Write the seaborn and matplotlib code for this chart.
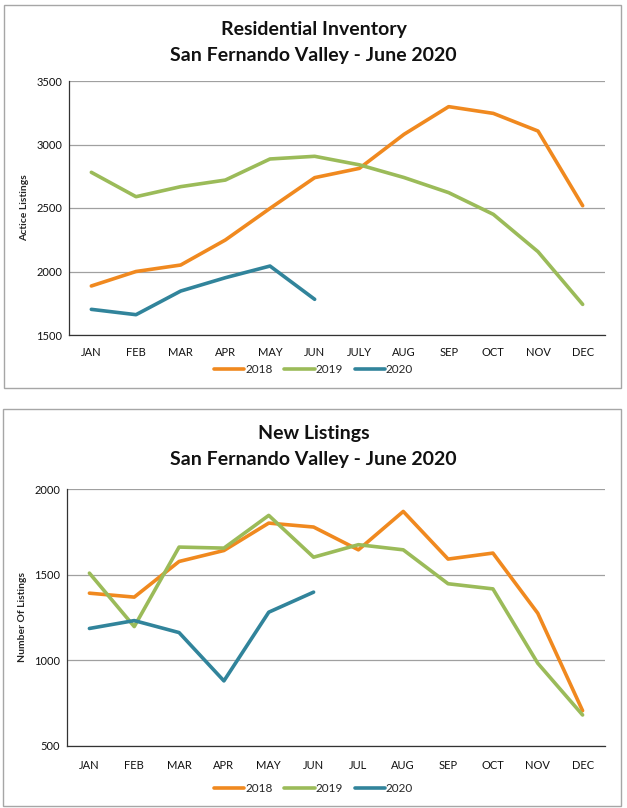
import matplotlib
matplotlib.use("Agg")
import matplotlib.pyplot as plt
import seaborn as sns
import pandas as pd
from matplotlib.patches import Rectangle
from matplotlib.ticker import FixedLocator

# ---- data ----
months_top = ["JAN", "FEB", "MAR", "APR", "MAY", "JUN", "JULY", "AUG", "SEP", "OCT", "NOV", "DEC"]
months_bot = ["JAN", "FEB", "MAR", "APR", "MAY", "JUN", "JUL", "AUG", "SEP", "OCT", "NOV", "DEC"]
years = ["2018", "2019", "2020"]

inv_2018 = [1886, 2000, 2051, 2248, 2497, 2739, 2812, 3080, 3298, 3245, 3106, 2518]
inv_2019 = [2781, 2589, 2668, 2720, 2886, 2907, 2840, 2740, 2621, 2450, 2156, 1741]
inv_2020 = [1702, 1660, 1846, 1951, 2043, 1781]

new_2018 = [1392, 1369, 1577, 1641, 1801, 1778, 1645, 1869, 1591, 1626, 1275, 706]
new_2019 = [1509, 1197, 1661, 1655, 1846, 1602, 1675, 1645, 1447, 1417, 983, 681]
new_2020 = [1186, 1232, 1162, 880, 1281, 1398]

colors = {"2018": "#F0891F", "2019": "#9BBB59", "2020": "#31849B"}


def long_df(series):
    rows = []
    for yr, vals in series.items():
        for i, v in enumerate(vals):
            rows.append({"idx": i, "value": v, "year": yr})
    return pd.DataFrame(rows)


sns.set_style("white")
plt.rcParams["font.family"] = ["Lato", "DejaVu Sans"]

W, H = 627, 808
fig = plt.figure(figsize=(W / 100, H / 100), dpi=100)


def fx(px):
    return px / W


def fy(py):
    return 1 - py / H


def panel(df, labels, ylim, yticks, ylabel, box, axbox, titles, title_y, tick_pad, leg_y):
    # border box
    x0, y0, x1, y1 = box
    fig.patches.append(Rectangle((fx(x0), fy(y1)), fx(x1) - fx(x0), fy(y0) - fy(y1),
                                 transform=fig.transFigure, fill=False,
                                 edgecolor="#A6A6A6", linewidth=1.0, zorder=0))
    l, t, r, b = axbox
    ax = fig.add_axes([fx(l), fy(b), fx(r) - fx(l), fy(t) - fy(b)])
    sns.lineplot(data=df, x="idx", y="value", hue="year", palette=colors,
                 hue_order=years, linewidth=2.6, ax=ax, legend=True)
    ax.set_xlim(-0.5, 11.5)
    ax.set_ylim(*ylim)
    ax.set_yticks(yticks)
    ax.set_yticklabels([str(v) for v in yticks], fontsize=8, color="#111111")
    ax.set_xticks(range(12))
    ax.set_xticklabels(labels, fontsize=8, color="#111111")
    ax.xaxis.set_minor_locator(FixedLocator([i - 0.5 for i in range(13)]))
    ax.tick_params(axis="x", which="major", length=0, pad=tick_pad)
    ax.tick_params(axis="x", which="minor", length=4, width=0.9, color="#333333", direction="out")
    ax.tick_params(axis="y", which="major", length=3, width=0.9, color="#333333", direction="out", pad=2)
    ax.grid(axis="y", color="#A0A0A0", linewidth=0.9)
    ax.set_axisbelow(True)
    for s in ["top", "right"]:
        ax.spines[s].set_visible(False)
    ax.spines["left"].set_color("#333333")
    ax.spines["bottom"].set_color("#333333")
    ax.spines["left"].set_linewidth(0.9)
    ax.spines["bottom"].set_linewidth(0.9)
    ax.set_xlabel("")
    ax.set_ylabel(ylabel, fontsize=7.5, fontweight="bold", labelpad=5)
    for ty, txt in zip(title_y, titles):
        fig.text(0.5, fy(ty), txt, ha="center", va="center", fontsize=14, fontweight="bold", color="#111111")
    handles, lbls = ax.get_legend_handles_labels()
    ax.legend(handles, lbls, loc="center", bbox_to_anchor=(0.5, fy(leg_y)),
              bbox_transform=fig.transFigure, ncol=3, frameon=False, fontsize=8.5,
              handlelength=2.6, handletextpad=0.05, columnspacing=1.0)
    return ax


df_top = long_df({"2018": inv_2018, "2019": inv_2019, "2020": inv_2020})
df_bot = long_df({"2018": new_2018, "2019": new_2019, "2020": new_2020})

panel(df_top, months_top, (1500, 3500), [1500, 2000, 2500, 3000, 3500], "Actice Listings",
      box=(4, 5, 621, 388), axbox=(69, 81, 605, 335),
      titles=["Residential Inventory", "San Fernando Valley - June 2020"], title_y=[30, 55],
      tick_pad=9, leg_y=370)

panel(df_bot, months_bot, (500, 2000), [500, 1000, 1500, 2000], "Number Of Listings",
      box=(3, 409, 621, 806), axbox=(67, 489, 605, 746),
      titles=["New Listings", "San Fernando Valley - June 2020"], title_y=[433, 460],
      tick_pad=10, leg_y=789)

fig.savefig("out.png", dpi=100)
